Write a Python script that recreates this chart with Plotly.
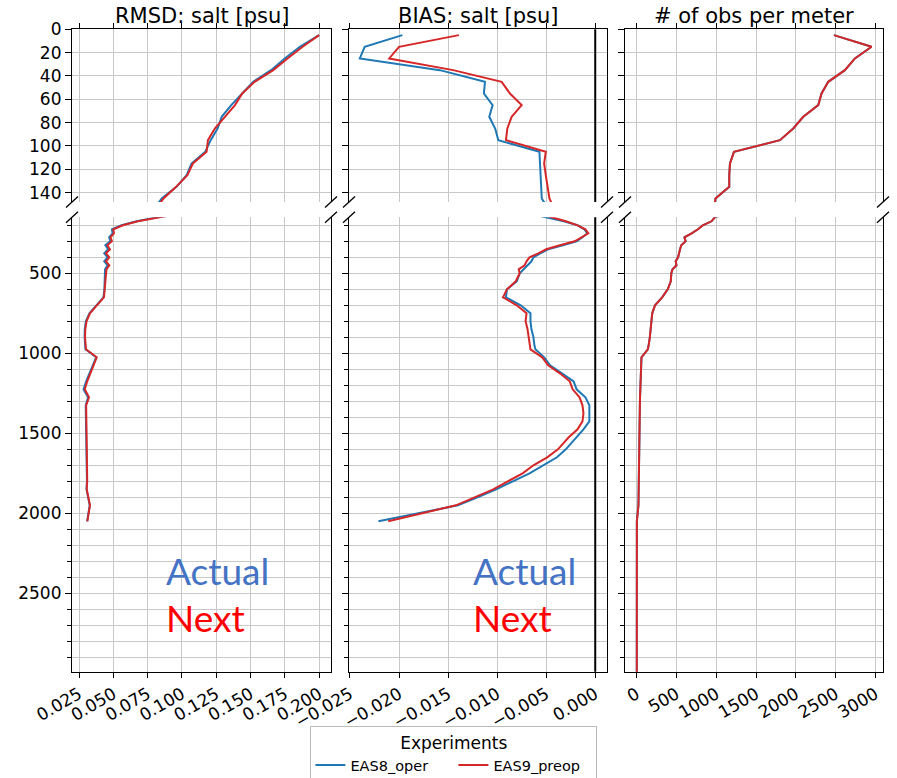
import plotly.graph_objects as go

# ---------------- data ----------------
depth = [5, 15, 25, 35, 45, 55, 65, 75, 85, 95, 105, 115, 125, 135, 145,
         175, 200, 225, 250, 275, 300, 325, 350, 375, 400, 425, 450, 475, 500,
         550, 600, 650, 700, 750, 800, 850, 900, 950, 975,
         1025, 1075, 1125, 1175, 1225, 1275, 1325, 1375, 1425, 1475, 1525,
         1600, 1650, 1700, 1750, 1800, 1850, 1900, 1950, 2050]

rmsd_eas8 = [0.200, 0.186, 0.175, 0.165, 0.152, 0.144, 0.136, 0.129, 0.126, 0.121, 0.117, 0.107, 0.1035, 0.096, 0.0853,
             0.067, 0.056, 0.049, 0.0495, 0.0470, 0.0478, 0.0442, 0.0462, 0.0434, 0.0458, 0.0434, 0.0458, 0.0440, 0.0440,
             0.0438, 0.0435, 0.0428, 0.0376, 0.0326, 0.0300, 0.0292, 0.0291, 0.0294, 0.0297,
             0.0375, 0.0350, 0.0322, 0.0302, 0.0283, 0.0316, 0.0299, 0.0300, 0.0301, 0.0302, 0.0303,
             0.0305, 0.0306, 0.0308, 0.0309, 0.0308, 0.0305, 0.0316, 0.0328, 0.0309]

rmsd_eas9 = [0.200, 0.188, 0.177, 0.1666, 0.153, 0.144, 0.1387, 0.131, 0.124, 0.119, 0.118, 0.108, 0.104, 0.0958, 0.0866,
             0.068, 0.057, 0.050, 0.0505, 0.0480, 0.0490, 0.0456, 0.0476, 0.0447, 0.0471, 0.0447, 0.0471, 0.0450, 0.0447,
             0.0445, 0.0440, 0.0432, 0.0380, 0.0330, 0.0305, 0.0296, 0.0294, 0.0298, 0.0301,
             0.0379, 0.0355, 0.0330, 0.0310, 0.0292, 0.0323, 0.0302, 0.0303, 0.0304, 0.0305, 0.0306,
             0.0308, 0.0309, 0.0311, 0.0311, 0.0310, 0.0306, 0.0318, 0.0330, 0.0311]

bias_eas8 = [-0.01966, -0.0235, -0.0240, -0.01584, -0.01124, -0.01135, -0.01046, -0.0108, -0.0102, -0.00988,
             -0.00569, -0.00562, -0.00562, -0.00555, -0.00545,
             -0.0032, -0.0018, -0.0011, -0.0008, -0.0013, -0.0019, -0.0033, -0.0048, -0.0056, -0.0063, -0.0065, -0.0069, -0.0073, -0.0077,
             -0.0080, -0.0090, -0.0091, -0.0076, -0.0066, -0.0066, -0.0065, -0.0063, -0.0062, -0.0061,
             -0.0052, -0.0046, -0.0034, -0.0022, -0.0019, -0.0010, -0.0006, -0.0006, -0.0006, -0.0012, -0.0019,
             -0.0030, -0.0039, -0.0053, -0.0067, -0.0084, -0.0101, -0.0120, -0.0140, -0.0221]

bias_eas9 = [-0.0139, -0.0200, -0.0210, -0.01448, -0.00954, -0.00869, -0.0075, -0.00852, -0.00896, -0.0091,
             -0.00504, -0.00521, -0.00504, -0.00487, -0.00467,
             -0.0030, -0.0018, -0.0010, -0.0007, -0.0014, -0.0021, -0.0036, -0.0050, -0.0058, -0.0067, -0.0070, -0.0072, -0.0078, -0.0077,
             -0.0081, -0.0090, -0.0094, -0.0080, -0.0070, -0.0071, -0.0069, -0.0068, -0.0067, -0.0066,
             -0.0054, -0.0048, -0.0036, -0.0026, -0.0023, -0.0016, -0.0013, -0.0012, -0.0013, -0.0018, -0.0027,
             -0.0038, -0.0049, -0.0063, -0.0074, -0.0089, -0.0104, -0.0123, -0.0142, -0.0211]

nobs = [2478, 2951, 2742, 2616, 2407, 2323, 2281, 2093, 1967, 1800, 1222, 1172, 1163, 1163, 990,
        940, 830, 770, 690, 600, 615, 560, 545, 530, 520, 490, 500, 450, 435,
        428, 390, 320, 230, 195, 186, 178, 165, 150, 140,
        60, 55, 50, 47, 44, 42, 40, 38, 36, 34, 32,
        30, 29, 28, 27, 26, 25, 24, 22, 2]

depth_deep = [2150, 2250, 2350, 2450, 2550, 2650, 2750, 2850, 2950, 3000]
nobs_deep = [2, 2, 2, 2, 1, 1, 1, 1, 1, 1]

titles = ["RMSD: salt [psu]", "BIAS: salt [psu]", "# of obs per meter"]
experiments = ["EAS8_oper", "EAS9_preop"]

# ---------------- layout helpers ----------------
W, H = 897, 778
BLUE, RED = "#1f77b4", "#d62728"
FONT = "DejaVu Sans"
GRID = "#c8c8c8"

cols_px = [(72, 331), (349, 607), (625, 883)]
top_px = (29.3, 202.0)
bot_px = (217.3, 671.7)

def px_x(p):
    return p / W

def px_y(p):
    return 1 - p / H

fig = go.Figure()

obs_depth = depth + depth_deep
obs_vals = nobs + nobs_deep

series = [
    (rmsd_eas8, rmsd_eas9, depth, depth),
    (bias_eas8, bias_eas9, depth, depth),
    (obs_vals, obs_vals, obs_depth, obs_depth),
]

for c, (b, r, db, dr) in enumerate(series):
    for row in range(2):
        ax = c + 1 + 3 * row
        xs = "x" if ax == 1 else f"x{ax}"
        ys = "y" if ax == 1 else f"y{ax}"
        show = (c == 0 and row == 1)
        fig.add_trace(go.Scatter(x=b, y=db, mode="lines", line=dict(color=BLUE, width=2),
                                 name=experiments[0], legendgroup="e8", showlegend=show,
                                 xaxis=xs, yaxis=ys))
        fig.add_trace(go.Scatter(x=r, y=dr, mode="lines", line=dict(color=RED, width=2),
                                 name=experiments[1], legendgroup="e9", showlegend=show,
                                 xaxis=xs, yaxis=ys))

xranges = [[0.0199, 0.2087], [-0.0251, 0.0012], [-147, 3095]]
xticks = [dict(tick0=0.025, dtick=0.025, tickformat=".3f"),
          dict(tick0=0, dtick=0.005, tickformat=".3f"),
          dict(tick0=0, dtick=500, tickformat="d")]

layout = dict(
    width=W, height=H,
    margin=dict(l=0, r=0, t=0, b=0, autoexpand=False),
    paper_bgcolor="white", plot_bgcolor="white",
    font=dict(family=FONT, size=17, color="black"),
    showlegend=True,
    legend=dict(orientation="h", x=0.506, xanchor="center", y=px_y(726), yanchor="top",
                title=dict(text="Experiments", side="top center", font=dict(size=17)),
                font=dict(size=14.5), bordercolor="#bbbbbb", borderwidth=1, bgcolor="white",
                entrywidth=98, entrywidthmode="pixels"),
)

for c in range(3):
    x0, x1 = cols_px[c]
    dom = [px_x(x0), px_x(x1)]
    for row in range(2):
        ax = c + 1 + 3 * row
        xname = "xaxis" if ax == 1 else f"xaxis{ax}"
        yname = "yaxis" if ax == 1 else f"yaxis{ax}"
        yanchor = "y" if ax == 1 else f"y{ax}"
        xanchor = "x" if ax == 1 else f"x{ax}"
        xa = dict(domain=dom, anchor=yanchor, range=xranges[c], tickmode="linear",
                  automargin=False,
                  showgrid=True, gridcolor=GRID, gridwidth=1, zeroline=False,
                  showline=True, linecolor="black", linewidth=1.2,
                  ticks="outside", ticklen=5, tickcolor="black", tickwidth=1,
                  **xticks[c])
        if row == 0:
            xa.update(side="top", showticklabels=False)
        else:
            xa.update(side="bottom", tickangle=-30, tickfont=dict(size=17))
        layout[xname] = xa

        if row == 0:
            ya = dict(domain=[px_y(top_px[1]), px_y(top_px[0])], range=[148, 0],
                      tickmode="linear", tick0=0, dtick=20)
        else:
            ya = dict(domain=[px_y(bot_px[1]), px_y(bot_px[0])], range=[2990, 150],
                      tickmode="linear", tick0=0, dtick=500,
                      minor=dict(dtick=100, tick0=0, ticks="outside", ticklen=3.5,
                                 tickcolor="black", showgrid=True, gridcolor=GRID, gridwidth=1))
        ya.update(anchor=xanchor, automargin=False,
                  showgrid=True, gridcolor=GRID, gridwidth=1, zeroline=False,
                  showline=True, mirror=True, linecolor="black", linewidth=1.2,
                  ticks="outside", ticklen=6, tickcolor="black", tickwidth=1,
                  showticklabels=(c == 0), tickfont=dict(size=17))
        layout[yname] = ya

fig.update_layout(**layout)

# zero line in the BIAS panels
for xs, ys in [("x2", "y2"), ("x5", "y5")]:
    fig.add_shape(type="line", xref=xs, yref=f"{ys} domain", x0=0, x1=0, y0=0, y1=1,
                  line=dict(color="black", width=2))

# broken-axis marks
for (x0, x1) in cols_px:
    for xp in (x0, x1):
        for yp in (top_px[1], bot_px[0]):
            fig.add_shape(type="line", xref="paper", yref="paper",
                          x0=px_x(xp - 6), y0=px_y(yp + 5.5), x1=px_x(xp + 6), y1=px_y(yp - 5.5),
                          line=dict(color="black", width=1.3))

# column titles
for c in range(3):
    x0, x1 = cols_px[c]
    fig.add_annotation(text=titles[c], xref="paper", yref="paper",
                       x=px_x((x0 + x1) / 2), y=px_y(16), xanchor="center", yanchor="middle",
                       showarrow=False, font=dict(size=21, family=FONT, color="black"))

# "Actual" / "Next" labels
for xp in (166, 473):
    fig.add_annotation(text="Actual", xref="paper", yref="paper", x=px_x(xp - 2), y=px_y(570),
                       xanchor="left", yanchor="middle", showarrow=False,
                       font=dict(size=37, family="Lato", color="#4472C4"))
    fig.add_annotation(text="Next", xref="paper", yref="paper", x=px_x(xp - 2), y=px_y(617),
                       xanchor="left", yanchor="middle", showarrow=False,
                       font=dict(size=37, family="Lato", color="#FF0000"))

fig.write_html("out.html", config={"displayModeBar": False},
               post_script="document.body.style.margin='0';document.body.style.overflow='hidden';")
